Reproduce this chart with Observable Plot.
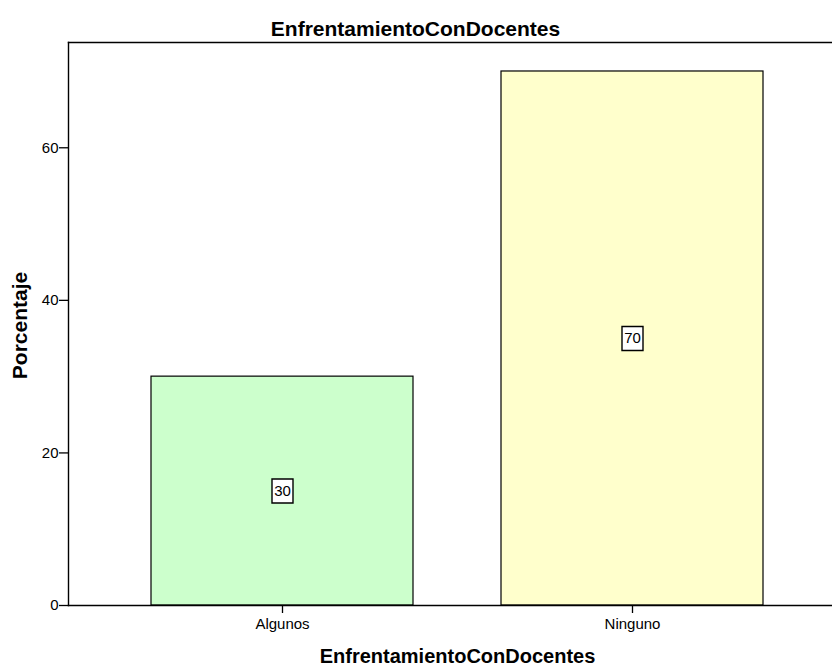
<!DOCTYPE html>
<html>
<head>
<meta charset="utf-8">
<script src="https://cdn.jsdelivr.net/npm/d3@7"></script>
<script src="https://cdn.jsdelivr.net/npm/@observablehq/plot@0.6"></script>
<style>
  html, body { margin: 0; padding: 0; background: #fff; }
  svg { font-family: Arial, "Liberation Sans", sans-serif; }
</style>
</head>
<body>
<div id="chart"></div>
<script>
const categories = ["Algunos", "Ninguno"];
const percentages = [30, 70];
const barColors = ["#CCFFCC", "#FFFFCC"];
const yTicks = [0, 20, 40, 60];
const title = "EnfrentamientoConDocentes";
const xLabel = "EnfrentamientoConDocentes";
const yLabel = "Porcentaje";

const data = categories.map((c, i) => ({category: c, value: percentages[i], color: barColors[i]}));

const boxSymbol = {
  draw(context, size) {
    const w = 10.5, h = 12;
    context.moveTo(-w, -h);
    context.lineTo(w, -h);
    context.lineTo(w, h);
    context.lineTo(-w, h);
    context.closePath();
  }
};

const chart = Plot.plot({
  width: 832,
  height: 666,
  marginLeft: 68,
  marginRight: 0,
  marginTop: 42,
  marginBottom: 61,
  style: {fontFamily: "Arial, 'Liberation Sans', sans-serif", background: "#fff"},
  x: {domain: categories, range: [68, 846], paddingInner: 0.2514, paddingOuter: 0.2371, label: null},
  y: {domain: [0, 73.8], label: null},
  marks: [
    Plot.barY(data, {x: "category", y: "value", fill: "color", stroke: "#000", strokeWidth: 1.2}),
    Plot.frame({anchor: "left", stroke: "#000", strokeWidth: 1.4}),
    Plot.frame({anchor: "top", stroke: "#000", strokeWidth: 1.4}),
    Plot.frame({anchor: "bottom", stroke: "#000", strokeWidth: 1.4}),
    Plot.axisY({ticks: yTicks, tickSize: 9, tickPadding: 1, fontSize: 15, stroke: "#000", strokeWidth: 1.3, color: "#000", label: null}),
    Plot.axisX({tickSize: 8, tickPadding: 5, fontSize: 15, stroke: "#000", strokeWidth: 1.3, color: "#000", label: null}),
    Plot.dot(data, {x: "category", y: d => d.value / 2, symbol: boxSymbol, r: 4, fill: "#fff", stroke: "#000", strokeWidth: 1.4}),
    Plot.text(data, {x: "category", y: d => d.value / 2, text: d => String(d.value), fontSize: 15, fill: "#000"}),
    Plot.text([title], {frameAnchor: "top", lineAnchor: "middle", dy: -13, dx: -35, text: d => d, fontSize: 21, fontWeight: "bold", fill: "#000"}),
    Plot.text([xLabel], {frameAnchor: "bottom", lineAnchor: "middle", dy: 51, dx: 7, text: d => d, fontSize: 20, fontWeight: "bold", fill: "#000"}),
    Plot.text([yLabel], {frameAnchor: "left", lineAnchor: "middle", textAnchor: "middle", dx: -48, dy: 1.5, rotate: -90, text: d => d, fontSize: 21, fontWeight: "bold", fill: "#000"})
  ]
});
document.getElementById("chart").appendChild(chart);
</script>
</body>
</html>
